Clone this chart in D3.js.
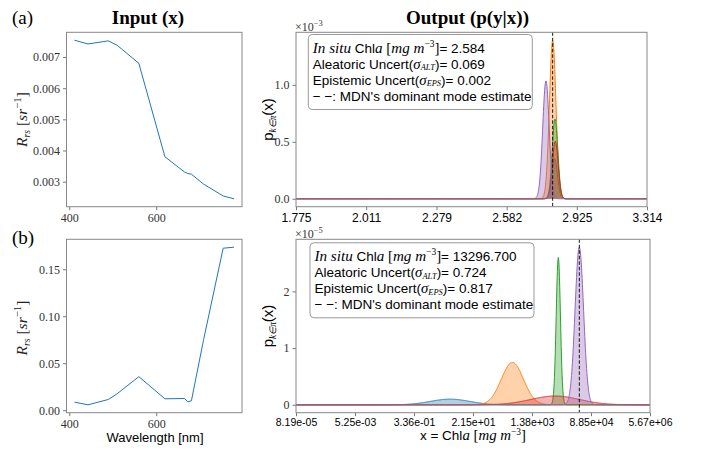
<!DOCTYPE html>
<html><head><meta charset="utf-8">
<script src="https://cdn.jsdelivr.net/npm/d3@7"></script>
<style>
body{margin:0;background:#fff}
svg{display:block}
</style></head><body>
<svg id="c" width="702" height="450"></svg>
<script>
// ---------------- data ----------------
const wavelengths = [412, 443, 490, 510, 560, 620, 665, 673, 681, 709, 754, 779];
const rrsA = [0.00754, 0.00742, 0.00752, 0.00738, 0.00680, 0.00380, 0.00331, 0.00326, 0.00324, 0.00292, 0.00254, 0.00245];
const rrsB = [0.0085, 0.0057, 0.0114, 0.0174, 0.0357, 0.0121, 0.0124, 0.0089, 0.0100, 0.0750, 0.1724, 0.1735];
const leftXTicks = [400, 600];
const leftYTicksA = [0.003, 0.004, 0.005, 0.006, 0.007];
const leftYTicksB = [0.00, 0.05, 0.10, 0.15];

const compNames = ["k=1", "k=2", "k=3", "k=4", "k=5"];
const compColors = ["#1f77b4", "#ff7f0e", "#2ca02c", "#d62728", "#9467bd"];
// mixture components: mean & width in log10(Chl), peak height (in offset units)
const muA = [0.4490, 0.4475, 0.4493, 0.4495, 0.4423];
const sigmaA = [0.0022, 0.0025, 0.0022, 0.0022, 0.0025];
const peakA = [0.352, 1.392, 0.700, 0.505, 1.035];   // x 1e-3
const muB = [0.63, 2.54, 3.946, 3.85, 4.589];
const sigmaB = [0.60, 0.34, 0.065, 0.75, 0.13];
const peakB = [0.10, 0.746, 2.60, 0.155, 2.78];      // x 1e-5
const offsetExpA = "−3", offsetExpB = "−5";
const chlTicksA = ["1.775", "2.011", "2.279", "2.582", "2.925", "3.314"];
const chlTicksB = ["8.19e-05", "5.25e-03", "3.36e-01", "2.15e+01", "1.38e+03", "8.85e+04", "5.67e+06"];
const rightYTicksA = [0.0, 0.5, 1.0];
const rightYTicksB = [0, 1, 2];
const modeA = 2.802, modeB = 38815;
const statsA = ["2.584", "0.069", "0.002"];
const statsB = ["13296.700", "0.724", "0.817"];

// ---------------- drawing ----------------
const svg = d3.select("#c");
const SERIF = "'Liberation Serif', 'Times New Roman', serif";
const SANS = "'Liberation Sans', Arial, sans-serif";
const SPINE = "#888";

function rich(parent, x, y, parts, size, anchor, rotate, fill) {
  const t = parent.append("text").attr("x", x).attr("y", y)
    .attr("font-size", size).attr("text-anchor", anchor || "start")
    .attr("fill", fill || "#000");
  if (rotate) t.attr("transform", `rotate(${rotate},${x},${y})`);
  let off = 0;
  parts.forEach(p => {
    const s = t.append("tspan").text(p.t);
    s.attr("font-family", p.f === "sans" ? SANS : SERIF);
    if (p.f === "it") s.attr("font-style", "italic");
    if (p.b) s.attr("font-weight", "bold");
    let target = 0;
    if (p.sub) target = size * (p.subOff || 0.2);
    if (p.sup) target = -size * 0.4;
    if (target !== off) { s.attr("dy", target - off); off = target; }
    let fsz = size * (p.s || 1);
    if (p.sub) fsz *= 0.62;
    if (p.sup) fsz *= 0.7;
    s.attr("font-size", fsz);
  });
  return t;
}

function padExtent(a) {
  const [lo, hi] = d3.extent(a); const m = (hi - lo) * 0.05; return [lo - m, hi + m];
}

function styleAxis(g, fam, size, col) {
  g.select(".domain").remove();
  g.selectAll(".tick line").attr("stroke", "#555").attr("stroke-width", 0.8);
  g.selectAll(".tick text").attr("font-family", fam).attr("font-size", size).attr("fill", col);
}

function frame(p) {
  svg.append("rect").attr("x", p.l).attr("y", p.t).attr("width", p.r - p.l).attr("height", p.b - p.t)
    .attr("fill", "none").attr("stroke", SPINE).attr("stroke-width", 1);
}

function leftPanel(p, values, yTicks, yFmt) {
  const x = d3.scaleLinear().domain(padExtent(wavelengths)).range([p.l, p.r]);
  const y = d3.scaleLinear().domain(padExtent(values)).range([p.b, p.t]);
  const gx = svg.append("g").attr("transform", `translate(0,${p.b})`)
    .call(d3.axisBottom(x).tickValues(leftXTicks).tickFormat(d3.format("d")).tickSize(3.5).tickPadding(3));
  styleAxis(gx, SERIF, 12, "#333");
  const gy = svg.append("g").attr("transform", `translate(${p.l},0)`)
    .call(d3.axisLeft(y).tickValues(yTicks).tickFormat(d3.format(yFmt)).tickSize(3.5).tickPadding(3));
  styleAxis(gy, SERIF, 12, "#333");
  svg.append("path").datum(wavelengths.map((w, i) => [w, values[i]]))
    .attr("d", d3.line().x(d => x(d[0])).y(d => y(d[1])))
    .attr("fill", "none").attr("stroke", "#1f77b4").attr("stroke-width", 1);
  frame(p);
}

let clipId = 0;
function rightPanel(p, tickLabels, mu, sigma, peak, mode, yTicks, yFmt, xSize, xPad, offExp) {
  const x = d3.scaleLog().domain([+tickLabels[0], +tickLabels[tickLabels.length - 1]]).range([p.l, p.r]);
  const maxPeak = d3.max(peak);
  const y = d3.scaleLinear().domain([-0.05 * maxPeak, 1.05 * maxPeak]).range([p.b, p.t]);
  const id = "clip" + (clipId++);
  svg.append("clipPath").attr("id", id).append("rect")
    .attr("x", p.l).attr("y", p.t).attr("width", p.r - p.l).attr("height", p.b - p.t);
  const g = svg.append("g").attr("clip-path", `url(#${id})`);
  const lo = Math.log10(x.domain()[0]), hi = Math.log10(x.domain()[1]);
  const N = 1200;
  const grid = d3.range(N + 1).map(i => lo + (hi - lo) * i / N);
  compNames.forEach((name, i) => {
    const pts = grid.map(lx => [Math.pow(10, lx), peak[i] * Math.exp(-0.5 * Math.pow((lx - mu[i]) / sigma[i], 2))]);
    g.append("path").datum(pts)
      .attr("d", d3.area().x(d => x(d[0])).y0(y(0)).y1(d => y(d[1])))
      .attr("fill", compColors[i]).attr("fill-opacity", 0.35);
    g.append("path").datum(pts)
      .attr("d", d3.line().x(d => x(d[0])).y(d => y(d[1])))
      .attr("fill", "none").attr("stroke", compColors[i]).attr("stroke-width", 1);
  });
  g.append("line").attr("x1", x(mode)).attr("x2", x(mode)).attr("y1", p.t).attr("y2", p.b)
    .attr("stroke", "#000").attr("stroke-width", 0.9).attr("stroke-dasharray", "3.5,2");
  const gx = svg.append("g").attr("transform", `translate(0,${p.b})`)
    .call(d3.axisBottom(x).tickValues(tickLabels.map(Number)).tickFormat((d, i) => tickLabels[i]).tickSize(3.5).tickPadding(xPad));
  styleAxis(gx, SANS, xSize, "#000");
  const gy = svg.append("g").attr("transform", `translate(${p.l},0)`)
    .call(d3.axisLeft(y).tickValues(yTicks).tickFormat(d3.format(yFmt)).tickSize(3.5).tickPadding(3));
  styleAxis(gy, SERIF, 12, "#333");
  frame(p);
  rich(svg, p.l - 1, p.t - 1.5, [{ t: "×10", f: "serif" }, { t: offExp, f: "serif", sup: true }], 12, "start", 0, "#333");
  return x;
}

function legend(bx, by, stats) {
  const w = 224, h = 75;
  svg.append("rect").attr("x", bx).attr("y", by).attr("width", w).attr("height", h)
    .attr("rx", 4).attr("fill", "#fff").attr("fill-opacity", 0.85).attr("stroke", "#999").attr("stroke-width", 1);
  const tx = bx + 4.5, b0 = by + 18, dl = 16, fs = 13.5;
  rich(svg, tx, b0, [
    { t: "In situ", f: "it", s: 1.12 }, { t: " Chl", f: "sans" }, { t: "a", f: "it", s: 1.12 }, { t: " [", f: "serif", s: 1.1 },
    { t: "mg m", f: "it", s: 1.12 }, { t: "−3", f: "serif", sup: true }, { t: "]", f: "serif", s: 1.1 }, { t: "= " + stats[0], f: "sans" }], fs);
  rich(svg, tx, b0 + dl, [
    { t: "Aleatoric Uncert(", f: "sans" }, { t: "σ", f: "it", s: 1.1 }, { t: "ALT", f: "it", sub: true, subOff: 0.13 }, { t: ")= " + stats[1], f: "sans" }], fs);
  rich(svg, tx, b0 + 2 * dl, [
    { t: "Epistemic Uncert(", f: "sans" }, { t: "σ", f: "it", s: 1.1 }, { t: "EPS", f: "it", sub: true, subOff: 0.13 }, { t: ")= " + stats[2], f: "sans" }], fs);
  rich(svg, tx, b0 + 3 * dl, [{ t: "− −: MDN's dominant mode estimate", f: "sans" }], fs);
}

const PAL = { l: 66.5, r: 242, t: 32.3, b: 206.7 };
const PBL = { l: 66.5, r: 242, t: 239.3, b: 412.7 };
const PAR = { l: 296, r: 647, t: 32.3, b: 206.7 };
const PBR = { l: 296, r: 650, t: 239.3, b: 412.7 };

leftPanel(PAL, rrsA, leftYTicksA, ".3f");
leftPanel(PBL, rrsB, leftYTicksB, ".2f");
rightPanel(PAR, chlTicksA, muA, sigmaA, peakA, modeA, rightYTicksA, ".1f", 12, 3, offsetExpA);
rightPanel(PBR, chlTicksB, muB, sigmaB, peakB, modeB, rightYTicksB, "d", 10.5, 2, offsetExpB);
legend(308.3, 34.5, statsA);
legend(310, 242.8, statsB);

// titles & labels
rich(svg, 148, 24, [{ t: "Input (x)", f: "serif", b: true }], 19, "middle");
rich(svg, 467.5, 24, [{ t: "Output (p(y|x))", f: "serif", b: true }], 19, "middle");
rich(svg, 12, 24, [{ t: "(a)", f: "serif" }], 19, "start");
rich(svg, 12, 244, [{ t: "(b)", f: "serif" }], 19, "start");

const rrsLabel = [{ t: "R", f: "it" }, { t: "rs", f: "it", sub: true }, { t: " [", f: "serif" }, { t: "sr", f: "it" }, { t: "−1", f: "serif", sup: true }, { t: "]", f: "serif" }];
rich(svg, 27, 119.5, rrsLabel, 15.5, "middle", -90, "#222");
rich(svg, 27, 328, rrsLabel, 15.5, "middle", -90, "#222");
const pLabel = [{ t: "p", f: "sans" }, { t: "k∈π", f: "it", sub: true }, { t: "(x)", f: "sans" }];
rich(svg, 273, 119.5, pLabel, 15, "middle", -90);
rich(svg, 273, 326, pLabel, 15, "middle", -90);
rich(svg, 155, 441.5, [{ t: "Wavelength [nm]", f: "sans" }], 13, "middle");
rich(svg, 473, 440, [{ t: "x = Chl", f: "sans" }, { t: "a", f: "it", s: 1.1 }, { t: " [", f: "serif", s: 1.1 }, { t: "mg m", f: "it", s: 1.1 }, { t: "−3", f: "serif", sup: true }, { t: "]", f: "serif", s: 1.1 }], 13.5, "middle");
</script>
</body></html>
